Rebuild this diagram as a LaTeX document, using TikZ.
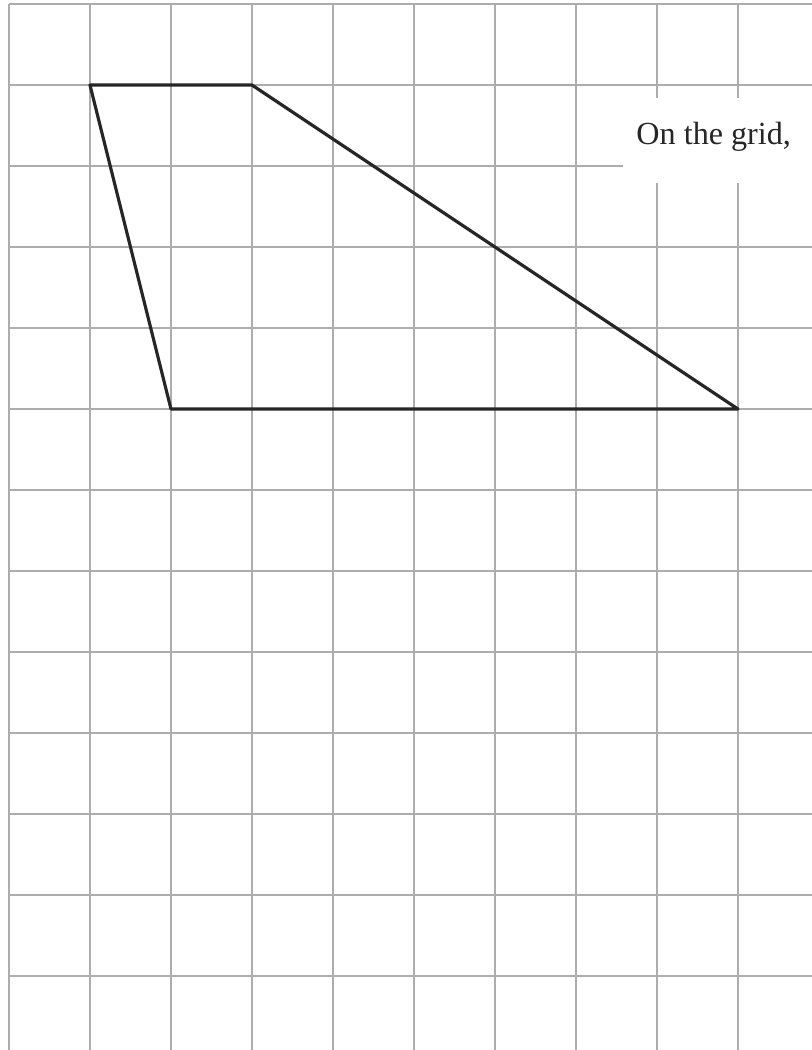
\documentclass[tikz,border=0pt]{standalone}
\usepackage{fontspec}
\setmainfont{Liberation Serif}
\begin{document}
\begin{tikzpicture}[line join=round, line cap=round]
\useasboundingbox (-0.111,-0.914) rectangle (9.914,12.05);
\draw[line width=0.7pt, color=black!32, line cap=butt] (0,-0.914) grid (9.914,12);
\coordinate (A) at (1,11);
\coordinate (B) at (3,11);
\coordinate (C) at (9,7);
\coordinate (D) at (2,7);
\draw[line width=1.1pt, color=black!85] (A)--(B)--(C)--(D)--cycle;
\fill[white] (7.58,9.79) rectangle (9.914,10.84);
\node[anchor=base west, inner sep=0pt, font=\fontsize{11.3}{13}\selectfont, text=black!85] (grid) at (7.74,10.26) {On the grid,};
\end{tikzpicture}
\end{document}
